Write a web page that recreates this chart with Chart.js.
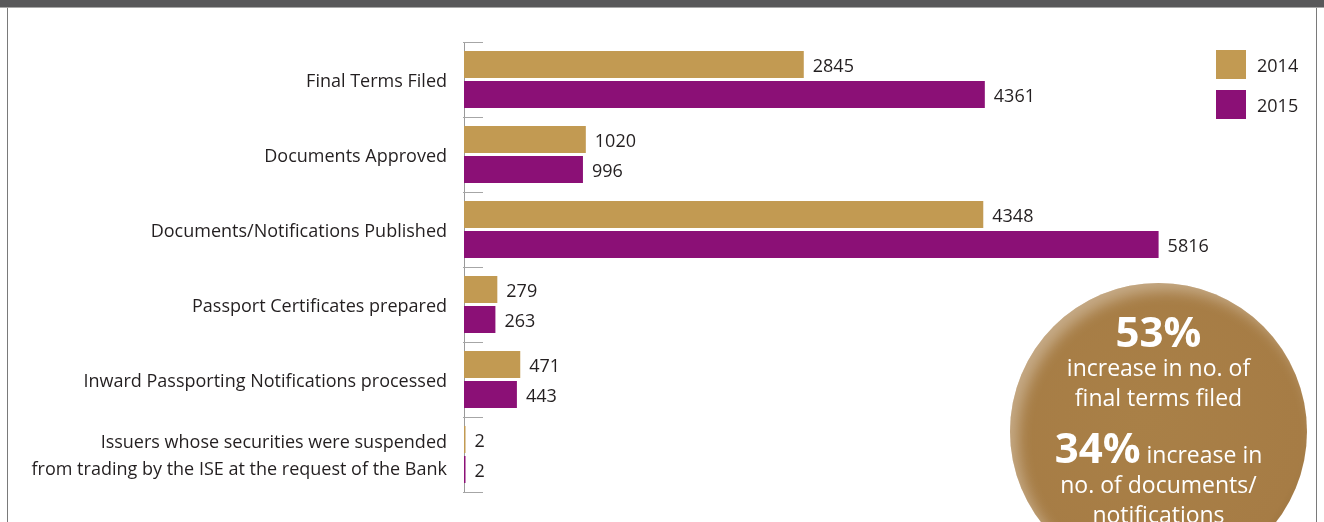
<!DOCTYPE html>
<html>
<head>
<meta charset="utf-8">
<script src="https://cdn.jsdelivr.net/npm/chart.js@4"></script>
<style>
  html, body { margin: 0; padding: 0; background: #fff; }
  #wrap { position: relative; width: 1324px; height: 522px; overflow: hidden; }
  #topbar { position: absolute; left: 0; top: 0; width: 1324px; height: 7px; background: #58585a; border-bottom: 1px solid #a7a7a7; }
  #lb { position: absolute; left: 7px; top: 8px; width: 1px; height: 514px; background: #7a7a7a; }
  #rb { position: absolute; left: 1316px; top: 8px; width: 1px; height: 514px; background: #7a7a7a; }
  canvas { position: absolute; left: 0; top: 0; }
  #badge {
    position: absolute; left: 1010px; top: 283px; width: 297px; height: 297px; border-radius: 50%;
    background: radial-gradient(circle at 45% 45%, #a98047 0%, #a67c45 70%, #8a6535 88%, #4a3a28 100%);
    box-shadow: inset 8px 8px 14px rgba(255,255,255,0.35);
    color: #fff; font-family: "Open Sans", sans-serif; text-align: center;
  }
  #badge .big { font-weight: bold; font-size: 42px; line-height: 42px; }
  #badge .txt { font-size: 23px; line-height: 30px; }
</style>
</head>
<body>
<div id="wrap">
  <canvas id="chart" width="1324" height="522"></canvas>
  <div id="topbar"></div>
  <div id="lb"></div>
  <div id="rb"></div>
  <div id="badge">
    <div class="big" style="margin-top:27px">53%</div>
    <div class="txt">increase in no. of</div>
    <div class="txt">final terms filed</div>
    <div class="txt" style="margin-top:14px"><span class="big">34%</span> increase in</div>
    <div class="txt">no. of documents/</div>
    <div class="txt">notifications</div>
  </div>
</div>
<script>
const categories = [
  "Final Terms Filed",
  "Documents Approved",
  "Documents/Notifications Published",
  "Passport Certificates prepared",
  "Inward Passporting Notifications processed",
  ["Issuers whose securities were suspended", "from trading by the ISE at the request of the Bank"]
];
const years = ["2014", "2015"];
const values2014 = [2845, 1020, 4348, 279, 471, 2];
const values2015 = [4361, 996, 5816, 263, 443, 2];
const colors = ["#c29a52", "#8b1076"];

const textColor = "#231f20";
const fontFamily = "'Open Sans', sans-serif";

const valueLabels = {
  id: "valueLabels",
  afterDatasetsDraw(chart) {
    const ctx = chart.ctx;
    ctx.save();
    ctx.font = "18px " + fontFamily;
    ctx.fillStyle = textColor;
    ctx.textBaseline = "middle";
    ctx.textAlign = "left";
    chart.data.datasets.forEach((ds, i) => {
      chart.getDatasetMeta(i).data.forEach((bar, j) => {
        ctx.fillText(ds.data[j], bar.x + 9, bar.y + 2);
      });
    });
    ctx.restore();
  }
};

// short tick marks to the right of the axis, at category boundaries
const sideTicks = {
  id: "sideTicks",
  afterDraw(chart) {
    const ctx = chart.ctx;
    const y = chart.scales.y;
    const left = chart.chartArea.left;
    ctx.save();
    ctx.strokeStyle = "#a6a6a6";
    ctx.lineWidth = 1;
    for (let i = 0; i <= categories.length; i++) {
      const py = Math.round(y.getPixelForValue(i - 0.5)) + 0.5;
      ctx.beginPath();
      ctx.moveTo(left - 1, py);
      ctx.lineTo(left + 19, py);
      ctx.stroke();
    }
    ctx.restore();
  }
};

const boxLegend = {
  id: "boxLegend",
  afterDraw(chart) {
    const ctx = chart.ctx;
    ctx.save();
    ctx.font = "18px " + fontFamily;
    ctx.textBaseline = "middle";
    chart.data.datasets.forEach((ds, i) => {
      const top = 50 + i * 40;
      ctx.fillStyle = ds.backgroundColor;
      ctx.fillRect(1216, top, 30, 29);
      ctx.fillStyle = textColor;
      ctx.fillText(ds.label, 1257, top + 17);
    });
    ctx.restore();
  }
};

new Chart(document.getElementById("chart"), {
  type: "bar",
  data: {
    labels: categories,
    datasets: [
      { label: years[0], data: values2014, backgroundColor: colors[0] },
      { label: years[1], data: values2015, backgroundColor: colors[1] }
    ]
  },
  options: {
    indexAxis: "y",
    responsive: false,
    animation: false,
    devicePixelRatio: 1,
    layout: { padding: { left: 0, right: 24, top: 42, bottom: 30 } },
    datasets: { bar: { categoryPercentage: 0.8, barPercentage: 0.9, minBarLength: 1.5 } },
    plugins: { legend: { display: false }, tooltip: { enabled: false } },
    scales: {
      x: { display: false, min: 0, max: 7000 },
      y: {
        afterFit(scale) { scale.width = 464; scale.paddingTop = 0; scale.paddingBottom = 0; },
        grid: { display: false, drawTicks: false },
        border: { display: true, color: "#9a9a9a", width: 1 },
        ticks: { color: textColor, padding: 17, labelOffset: 2, font: { family: fontFamily, size: 18, lineHeight: 1.5 } }
      }
    }
  },
  plugins: [valueLabels, sideTicks, boxLegend]
});
</script>
</body>
</html>
